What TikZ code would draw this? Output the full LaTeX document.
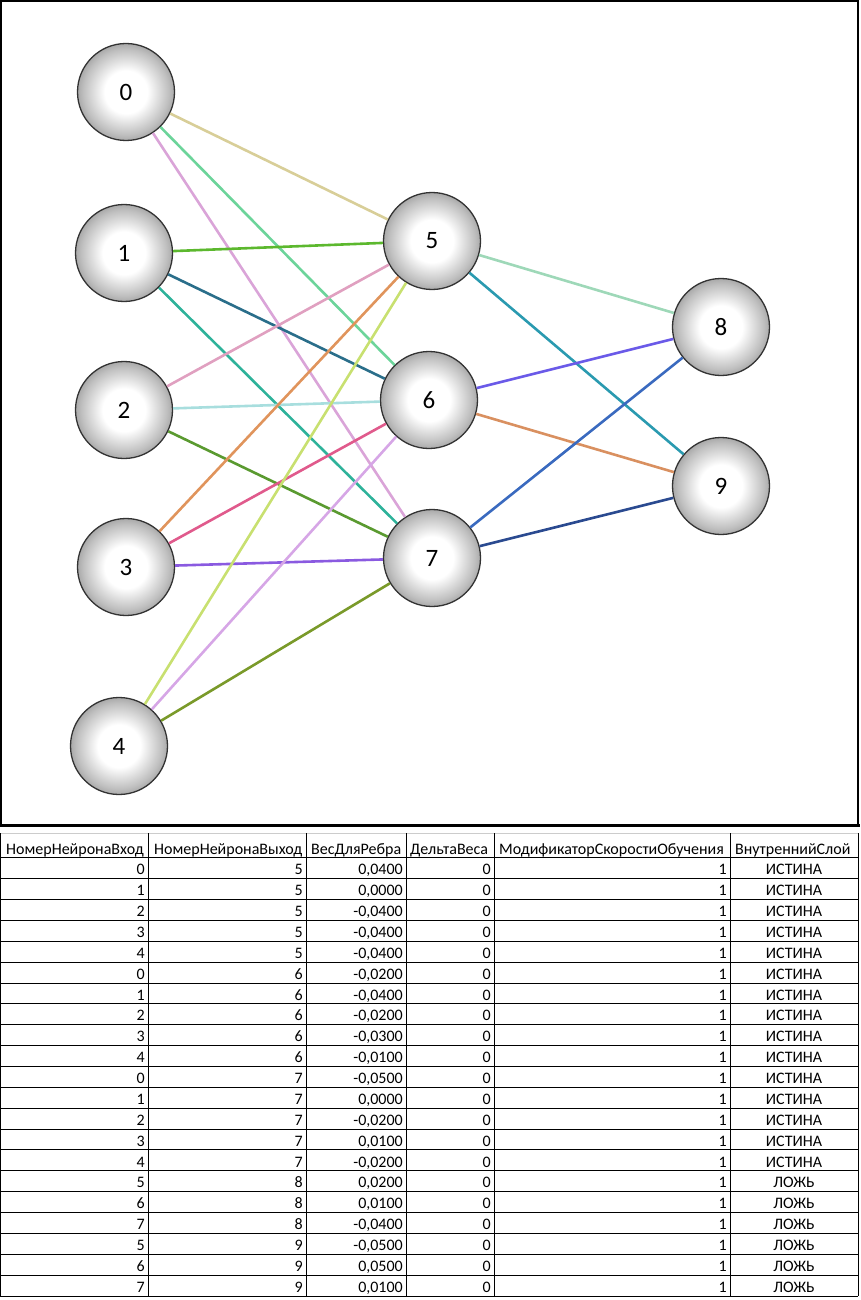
\documentclass[tikz,border=0pt]{standalone}
\usepackage{fontspec}
\setmainfont{Carlito}

\pgfdeclareradialshading{ball}{\pgfpoint{0bp}{0bp}}{color(0bp)=(white); color(11bp)=(white); color(22bp)=(black!25); color(29bp)=(black!45); color(35bp)=(black!72); color(50bp)=(black!80)}

\begin{document}
\begin{tikzpicture}[x=1pt,y=-1pt,
  neuron/.style={circle,minimum size=97pt,inner sep=0pt,draw=black!80,line width=1.3pt,shading=ball,font=\fontsize{25}{27}\selectfont,text=black},
  link/.style={line width=2.6pt},
  headcell/.style={anchor=base west,inner sep=0pt,font=\fontsize{16}{18}\selectfont},
  numcell/.style={anchor=base east,inner sep=0pt,font=\fontsize{16}{18}\selectfont},
  flagcell/.style={anchor=base,inner sep=0pt,font=\fontsize{16}{18}\selectfont}]
\useasboundingbox (0,0) rectangle (860,1300);
% frame round the network
\draw[line width=1.5pt] (1,1) rectangle (858,825);
\draw[line width=3pt] (0,825) -- (860,825);

% neurons
\node[neuron] (n0) at (126,92) {0};
\node[neuron] (n1) at (124,253) {1};
\node[neuron] (n2) at (124,410) {2};
\node[neuron] (n3) at (126,567) {3};
\node[neuron] (n4) at (119,746) {4};
\node[neuron] (n5) at (432,241) {5};
\node[neuron] (n6) at (429,400) {6};
\node[neuron] (n7) at (432,558) {7};
\node[neuron] (n8) at (721,327) {8};
\node[neuron] (n9) at (721,486) {9};

% links
\draw[link,color={rgb,255:red,216;green,206;blue,152}] (n0) -- (n5);
\draw[link,color={rgb,255:red,108;green,212;blue,154}] (n0) -- (n6);
\draw[link,color={rgb,255:red,218;green,164;blue,216}] (n0) -- (n7);
\draw[link,color={rgb,255:red,92;green,184;blue,46}] (n1) -- (n5);
\draw[link,color={rgb,255:red,42;green,110;blue,138}] (n1) -- (n6);
\draw[link,color={rgb,255:red,46;green,178;blue,154}] (n1) -- (n7);
\draw[link,color={rgb,255:red,224;green,160;blue,192}] (n2) -- (n5);
\draw[link,color={rgb,255:red,168;green,222;blue,222}] (n2) -- (n6);
\draw[link,color={rgb,255:red,90;green,154;blue,48}] (n2) -- (n7);
\draw[link,color={rgb,255:red,224;green,148;blue,92}] (n3) -- (n5);
\draw[link,color={rgb,255:red,224;green,90;blue,140}] (n3) -- (n6);
\draw[link,color={rgb,255:red,138;green,90;blue,224}] (n3) -- (n7);
\draw[link,color={rgb,255:red,200;green,224;blue,112}] (n4) -- (n5);
\draw[link,color={rgb,255:red,214;green,166;blue,230}] (n4) -- (n6);
\draw[link,color={rgb,255:red,122;green,154;blue,42}] (n4) -- (n7);
\draw[link,color={rgb,255:red,158;green,216;blue,184}] (n5) -- (n8);
\draw[link,color={rgb,255:red,42;green,154;blue,176}] (n5) -- (n9);
\draw[link,color={rgb,255:red,106;green,90;blue,232}] (n6) -- (n8);
\draw[link,color={rgb,255:red,217;green,144;blue,96}] (n6) -- (n9);
\draw[link,color={rgb,255:red,58;green,106;blue,191}] (n7) -- (n8);
\draw[link,color={rgb,255:red,42;green,74;blue,144}] (n7) -- (n9);

% table grid
\draw[black!20] (0,833) -- (858,833);
\foreach \x in {0.5,148,306,406,494,730,858}
  \draw (\x,833) -- (\x,1296);
\foreach \k in {0,...,21}
  \draw (0,{857.5+20.87*\k}) -- (858,{857.5+20.87*\k});

% table header
\node[headcell] (h1) at (6,854) {НомерНейронаВход};
\node[headcell] (h2) at (154,854) {НомерНейронаВыход};
\node[headcell] (h3) at (311,854) {ВесДляРебра};
\node[headcell] (h4) at (410,854) {ДельтаВеса};
\node[headcell] (h5) at (499,854) {МодификаторСкоростиОбучения};
\node[headcell] (h6) at (735,854) {ВнутреннийСлой};

% table rows
\foreach \inp/\outp/\wt/\flag [count=\k] in {
  0/5/{0,0400}/ИСТИНА, 1/5/{0,0000}/ИСТИНА, 2/5/{-0,0400}/ИСТИНА,
  3/5/{-0,0400}/ИСТИНА, 4/5/{-0,0400}/ИСТИНА, 0/6/{-0,0200}/ИСТИНА,
  1/6/{-0,0400}/ИСТИНА, 2/6/{-0,0200}/ИСТИНА, 3/6/{-0,0300}/ИСТИНА,
  4/6/{-0,0100}/ИСТИНА, 0/7/{-0,0500}/ИСТИНА, 1/7/{0,0000}/ИСТИНА,
  2/7/{-0,0200}/ИСТИНА, 3/7/{0,0100}/ИСТИНА, 4/7/{-0,0200}/ИСТИНА,
  5/8/{0,0200}/ЛОЖЬ, 6/8/{0,0100}/ЛОЖЬ, 7/8/{-0,0400}/ЛОЖЬ,
  5/9/{-0,0500}/ЛОЖЬ, 6/9/{0,0500}/ЛОЖЬ, 7/9/{0,0100}/ЛОЖЬ}
{
  \pgfmathsetmacro{\yb}{857.5+20.87*\k-3.5}
  \node[numcell] (r\k-1) at (145,\yb) {\inp};
  \node[numcell] (r\k-2) at (303,\yb) {\outp};
  \node[numcell] (r\k-3) at (403,\yb) {\wt};
  \node[numcell] (r\k-4) at (491,\yb) {0};
  \node[numcell] (r\k-5) at (727,\yb) {1};
  \node[flagcell] (r\k-6) at (794,\yb) {\flag};
}
\end{tikzpicture}
\end{document}
